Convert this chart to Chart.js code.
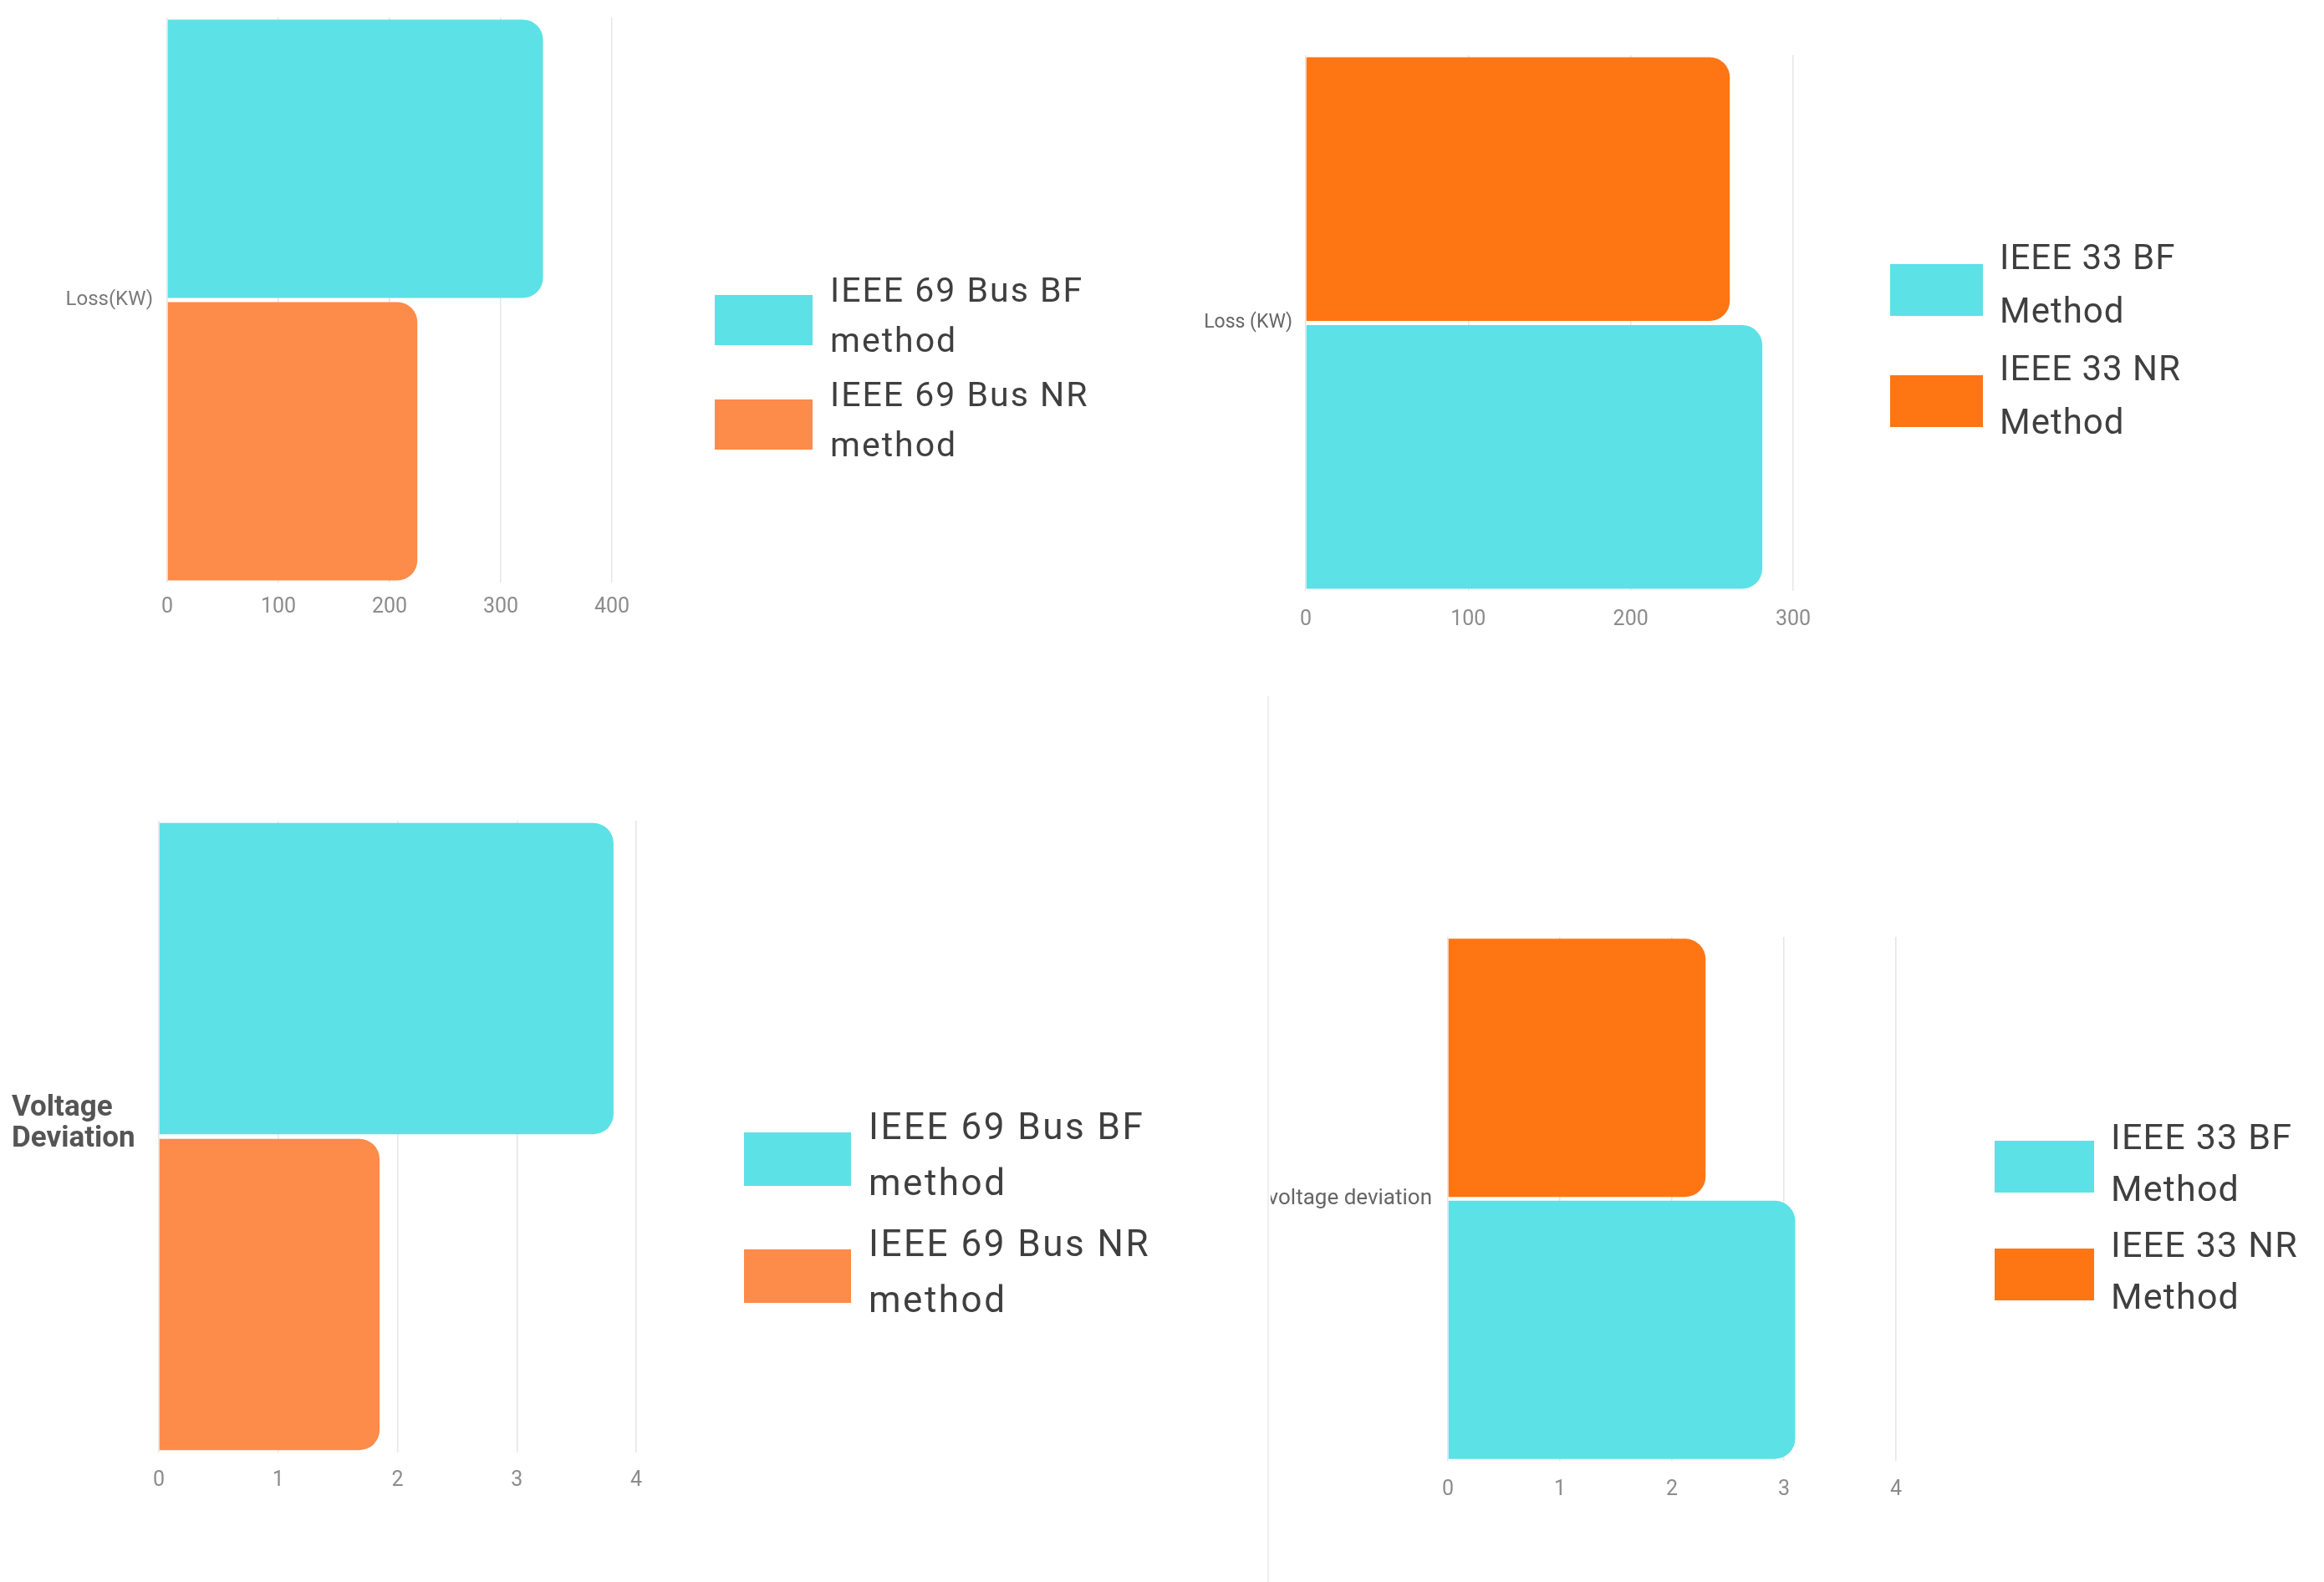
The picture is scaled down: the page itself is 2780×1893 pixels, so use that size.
<!DOCTYPE html>
<html>
<head>
<meta charset="utf-8">
<title>IEEE 33 / 69 bus - BF vs NR</title>
<script src="https://cdn.jsdelivr.net/npm/chart.js@4.4.1/dist/chart.umd.min.js"></script>
<style>
    body { margin: 0; background: #fff; width: 2780px; height: 1893px; position: relative; overflow: hidden; }
    canvas { position: absolute; }
    .divider { position: absolute; left: 1516px; top: 833px; width: 2px; height: 1060px; background: #efefef; }
</style>
</head>
<body>
<canvas id="loss69" width="1400" height="800" style="left:0;top:0"></canvas>
<canvas id="loss33" width="1360" height="800" style="left:1420px;top:0"></canvas>
<canvas id="vd69" width="1420" height="993" style="left:0;top:900px"></canvas>
<canvas id="vd33" width="1260" height="993" style="left:1520px;top:900px"></canvas>
<div class="divider"></div>
<script>
// số liệu
var loss69Category = ['Loss(KW)'];
var loss69BF = [338];
var loss69NR = [225];
var loss69Ticks = [0, 100, 200, 300, 400];

var loss33Category = ['Loss (KW)'];
var loss33BF = [281];
var loss33NR = [261];
var loss33Ticks = [0, 100, 200, 300];

var vd69Category = [['Voltage', 'Deviation']];
var vd69BF = [3.81];
var vd69NR = [1.85];
var vd69Ticks = [0, 1, 2, 3, 4];

var vd33Category = ['voltage deviation'];
var vd33BF = [3.10];
var vd33NR = [2.30];
var vd33Ticks = [0, 1, 2, 3, 4];

var legend69 = [['IEEE 69 Bus BF', 'method'], ['IEEE 69 Bus NR', 'method']];
var legend33 = [['IEEE 33 BF', 'Method'], ['IEEE 33 NR', 'Method']];

var CYAN = '#5ce1e6';
var ORANGE_SOFT = '#fd8b4a';
var ORANGE = '#fe7514';

Chart.defaults.font.family = 'Roboto';

// legend vẽ bên phải, chữ xuống dòng, ô màu căn giữa hai dòng
var sideLegend = {
    id: 'sideLegend',
    afterDraw: function (chart, args, opt) {
        var ctx = chart.ctx;
        var sets = chart.data.datasets.slice();
        if (opt.reverse) sets.reverse();
        ctx.save();
        ctx.font = opt.fontSize + 'px Roboto';
        ctx.letterSpacing = opt.spacing + 'px';
        ctx.textBaseline = 'middle';
        ctx.textAlign = 'left';
        sets.forEach(function (ds, i) {
            var mid = opt.top + i * opt.pitch;
            ctx.fillStyle = ds.backgroundColor;
            ctx.fillRect(opt.boxX, mid + opt.boxDy - opt.boxH / 2, opt.boxW, opt.boxH);
            ctx.fillStyle = '#3f3f3f';
            ds.legendLines.forEach(function (line, k) {
                var y = mid + (k - (ds.legendLines.length - 1) / 2) * opt.lineHeight;
                ctx.fillText(line, opt.textX, y);
            });
        });
        ctx.restore();
    }
};

function barSet(lines, values, color) {
    return {
        label: lines.join(' '),
        legendLines: lines,
        data: values,
        backgroundColor: color,
        borderRadius: 24,
        borderSkipped: 'start',
        barPercentage: 0.985,
        categoryPercentage: 1
    };
}

function drawBarChart(id, cfg) {
    var canvas = document.getElementById(id);
    var w = canvas.width, h = canvas.height, a = cfg.area;
    var xAxisHeight = 60;
    var yLeft = cfg.yLeft || 0;
    var t = cfg.ticks;
    return new Chart(canvas, {
        type: 'bar',
        data: { labels: cfg.categories, datasets: cfg.datasets },
        options: {
            indexAxis: 'y',
            responsive: false,
            animation: false,
            layout: { padding: { left: yLeft, top: a.top, right: w - a.right, bottom: h - a.bottom - xAxisHeight } },
            plugins: {
                legend: { display: false },
                tooltip: { enabled: false },
                sideLegend: cfg.legend
            },
            scales: {
                x: {
                    min: t[0],
                    max: t[t.length - 1],
                    ticks: { stepSize: t[1] - t[0], padding: cfg.xPad, color: '#8c8c8c', font: { size: 25 } },
                    grid: { color: '#e6e6e6', lineWidth: 1.5, drawTicks: false },
                    border: { display: false },
                    afterFit: function (s) { s.height = xAxisHeight; s.paddingLeft = 0; s.paddingRight = 0; }
                },
                y: {
                    grid: { display: false, drawTicks: false },
                    border: { display: false },
                    ticks: {
                        padding: cfg.yPad || 0,
                        crossAlign: cfg.crossAlign || 'near',
                        labelOffset: cfg.labelOffset || 0,
                        color: cfg.yColor,
                        font: cfg.yFont
                    },
                    afterFit: function (s) { s.width = a.left - yLeft; s.paddingTop = 0; s.paddingBottom = 0; }
                }
            }
        },
        plugins: [sideLegend]
    });
}

// 69 bus - tổn thất
drawBarChart('loss69', {
    categories: loss69Category,
    datasets: [barSet(legend69[0], loss69BF, CYAN), barSet(legend69[1], loss69NR, ORANGE_SOFT)],
    ticks: loss69Ticks,
    area: { left: 200, top: 21, right: 732, bottom: 697 },
    xPad: 15, yPad: 17, yColor: '#7a7a7a', yFont: { size: 24 },
    legend: { boxX: 855, boxW: 117, boxH: 60, boxDy: 2, textX: 993, top: 381, pitch: 125, lineHeight: 60, fontSize: 41, spacing: 2 }
});

// 33 bus - tổn thất (NR nằm trên)
drawBarChart('loss33', {
    categories: loss33Category,
    datasets: [barSet(legend33[1], loss33NR, ORANGE), barSet(legend33[0], loss33BF, CYAN)],
    ticks: loss33Ticks,
    area: { left: 142, top: 66, right: 725, bottom: 707 },
    xPad: 20, yPad: 16, yColor: '#666', yFont: { size: 23 },
    legend: { reverse: true, boxX: 841, boxW: 111, boxH: 62, boxDy: 4, textX: 972, top: 343, pitch: 133, lineHeight: 64, fontSize: 42, spacing: 1 }
});

// 69 bus - độ lệch điện áp
drawBarChart('vd69', {
    categories: vd69Category,
    datasets: [barSet(legend69[0], vd69BF, CYAN), barSet(legend69[1], vd69NR, ORANGE_SOFT)],
    ticks: vd69Ticks,
    area: { left: 190, top: 82, right: 761, bottom: 838 },
    xPad: 19, yLeft: 14, crossAlign: 'far', labelOffset: -15, yColor: '#555', yFont: { size: 35, weight: 'bold', lineHeight: 1.07 },
    legend: { boxX: 890, boxW: 128, boxH: 64, boxDy: 2, textX: 1039, top: 485, pitch: 140, lineHeight: 67, fontSize: 44, spacing: 2.5 }
});

// 33 bus - độ lệch điện áp (NR nằm trên)
drawBarChart('vd33', {
    categories: vd33Category,
    datasets: [barSet(legend33[1], vd33NR, ORANGE), barSet(legend33[0], vd33BF, CYAN)],
    ticks: vd33Ticks,
    area: { left: 212, top: 221, right: 748, bottom: 848 },
    xPad: 20, yPad: 19, yColor: '#666', yFont: { size: 26 },
    legend: { reverse: true, boxX: 866, boxW: 119, boxH: 62, boxDy: 1, textX: 1005, top: 495, pitch: 129, lineHeight: 62, fontSize: 43, spacing: 1.2 }
});
</script>
</body>
</html>
